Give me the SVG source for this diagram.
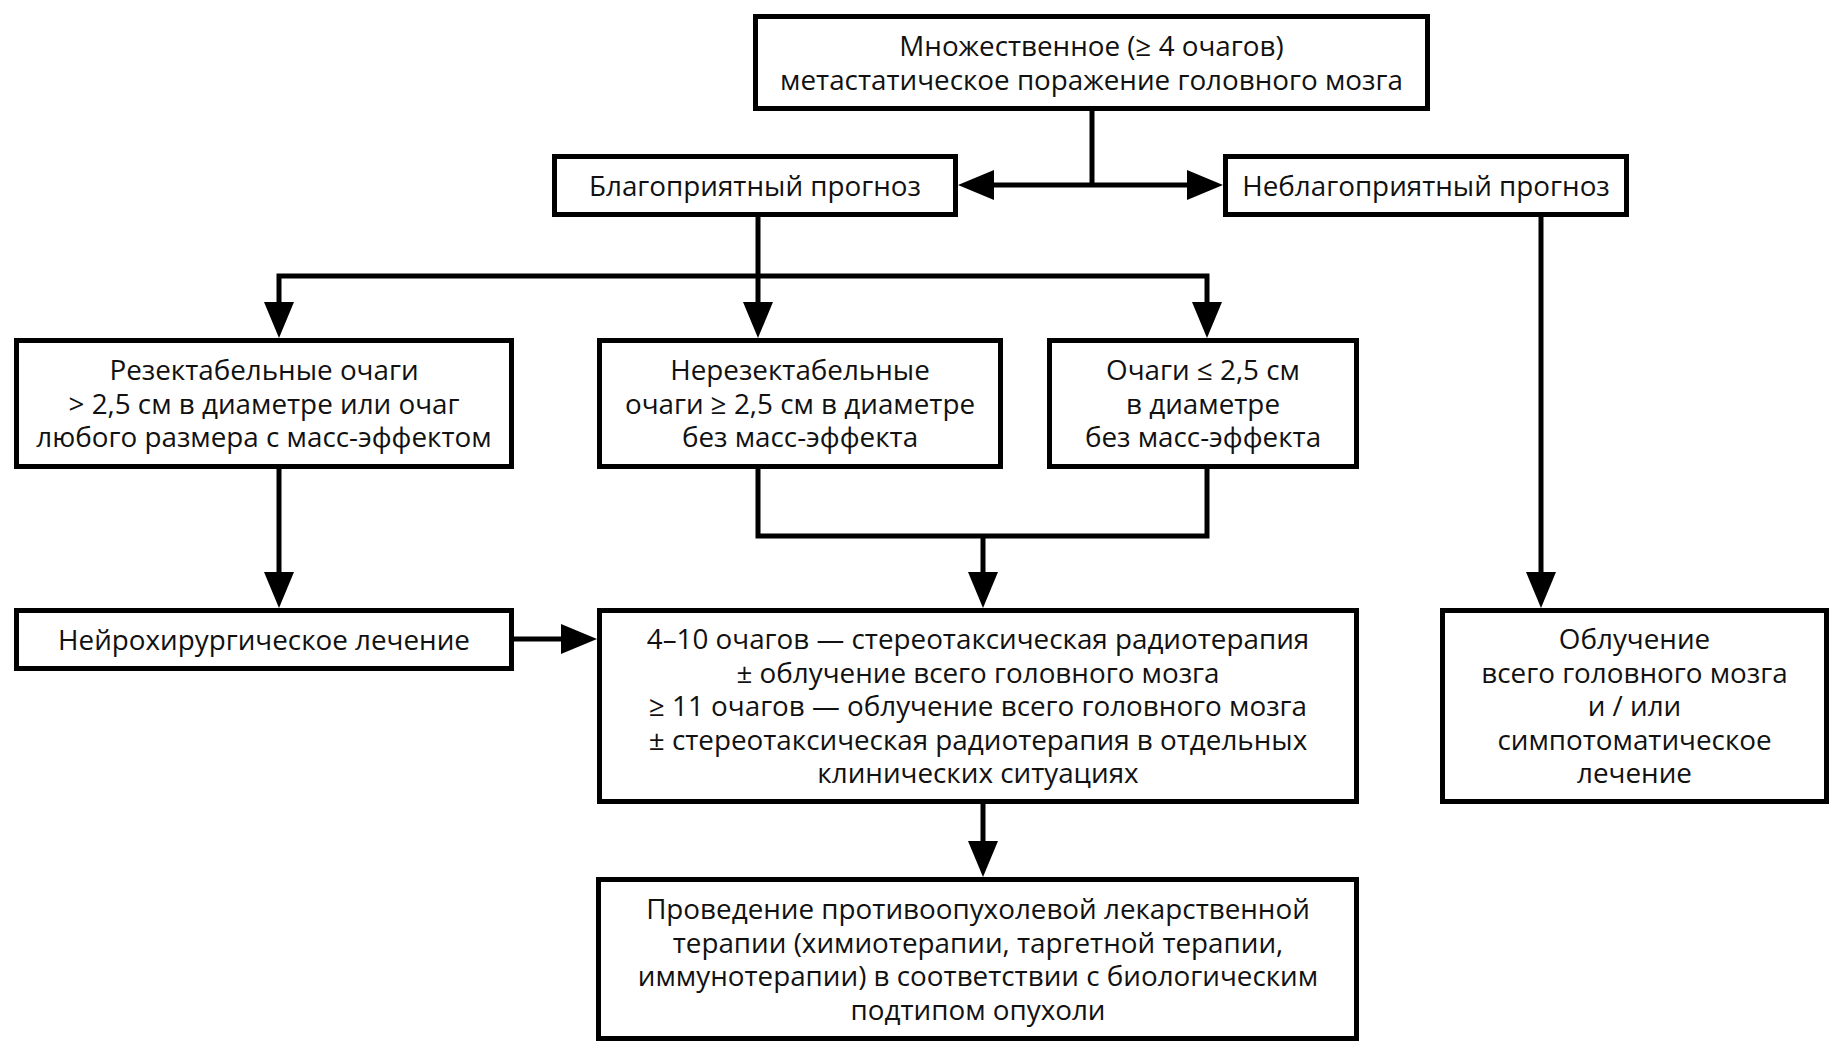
<svg xmlns="http://www.w3.org/2000/svg" width="1843" height="1057" viewBox="0 0 1843 1057">
<defs>
<style>
.box{fill:#fff;stroke:#000;stroke-width:5}
.t{font-family:"Open Sans","DejaVu Sans",sans-serif;font-size:27.8px;fill:#111;text-anchor:middle}
.c{fill:none;stroke:#000;stroke-width:5;stroke-linejoin:miter}
</style>
<marker id="ah" markerUnits="userSpaceOnUse" markerWidth="36" markerHeight="30" refX="2" refY="15" orient="auto-start-reverse" viewBox="0 0 36 30">
<path d="M0,0 L36,15 L0,30 Z" fill="#000"/>
</marker>
</defs>
<rect width="1843" height="1057" fill="#fff"/>
<g id="connectors">
<path class="c" d="M1092,111 V185"/>
<path class="c" d="M992,185 H1189" marker-start="url(#ah)" marker-end="url(#ah)"/>
<path class="c" d="M758,217 V304" marker-end="url(#ah)"/>
<path class="c" d="M279,304 V276 H1207 V304" marker-start="url(#ah)" marker-end="url(#ah)"/>
<path class="c" d="M279,469 V574" marker-end="url(#ah)"/>
<path class="c" d="M514,639 H563" marker-end="url(#ah)"/>
<path class="c" d="M758,469 V536 H1207 V469"/>
<path class="c" d="M983,536 V574" marker-end="url(#ah)"/>
<path class="c" d="M983,804 V843" marker-end="url(#ah)"/>
<path class="c" d="M1541,217 V574" marker-end="url(#ah)"/>
</g>
<g id="n-top">
<rect class="box" x="755.5" y="16.5" width="672" height="92"/>
<text class="t" x="1091.5" y="56">Множественное (≥ 4 очагов)</text>
<text class="t" x="1091.5" y="89.5">метастатическое поражение головного мозга</text>
</g>
<g id="n-good">
<rect class="box" x="554.5" y="156.5" width="401" height="58"/>
<text class="t" x="755" y="195.5">Благоприятный прогноз</text>
</g>
<g id="n-bad">
<rect class="box" x="1225.5" y="156.5" width="401" height="58"/>
<text class="t" x="1426" y="195.5">Неблагоприятный прогноз</text>
</g>
<g id="n-resect">
<rect class="box" x="16.5" y="340.5" width="495" height="126"/>
<text class="t" x="264" y="380">Резектабельные очаги</text>
<text class="t" x="264" y="413.5">&gt; 2,5 см в диаметре или очаг</text>
<text class="t" x="264" y="447">любого размера с масс-эффектом</text>
</g>
<g id="n-unresect">
<rect class="box" x="599.5" y="340.5" width="401" height="126"/>
<text class="t" x="800" y="380">Нерезектабельные</text>
<text class="t" x="800" y="413.5">очаги ≥ 2,5 см в диаметре</text>
<text class="t" x="800" y="447">без масс-эффекта</text>
</g>
<g id="n-small">
<rect class="box" x="1049.5" y="340.5" width="307" height="126"/>
<text class="t" x="1203" y="380">Очаги ≤ 2,5 см</text>
<text class="t" x="1203" y="413.5">в диаметре</text>
<text class="t" x="1203" y="447">без масс-эффекта</text>
</g>
<g id="n-neuro">
<rect class="box" x="16.5" y="610.5" width="495" height="58"/>
<text class="t" x="264" y="649.5">Нейрохирургическое лечение</text>
</g>
<g id="n-main">
<rect class="box" x="599.5" y="610.5" width="757" height="191"/>
<text class="t" x="978" y="649">4–10 очагов — стереотаксическая радиотерапия</text>
<text class="t" x="978" y="682.5">± облучение всего головного мозга</text>
<text class="t" x="978" y="716">≥ 11 очагов — облучение всего головного мозга</text>
<text class="t" x="978" y="749.5">± стереотаксическая радиотерапия в отдельных</text>
<text class="t" x="978" y="783">клинических ситуациях</text>
</g>
<g id="n-wbrt">
<rect class="box" x="1442.5" y="610.5" width="384" height="191"/>
<text class="t" x="1634.5" y="649">Облучение</text>
<text class="t" x="1634.5" y="682.5">всего головного мозга</text>
<text class="t" x="1634.5" y="716">и / или</text>
<text class="t" x="1634.5" y="749.5">симпотоматическое</text>
<text class="t" x="1634.5" y="783">лечение</text>
</g>
<g id="n-drug">
<rect class="box" x="598.5" y="879.5" width="758" height="159"/>
<text class="t" x="978" y="919">Проведение противоопухолевой лекарственной</text>
<text class="t" x="978" y="952.5">терапии (химиотерапии, таргетной терапии,</text>
<text class="t" x="978" y="986">иммунотерапии) в соответствии с биологическим</text>
<text class="t" x="978" y="1019.5">подтипом опухоли</text>
</g>
</svg>
